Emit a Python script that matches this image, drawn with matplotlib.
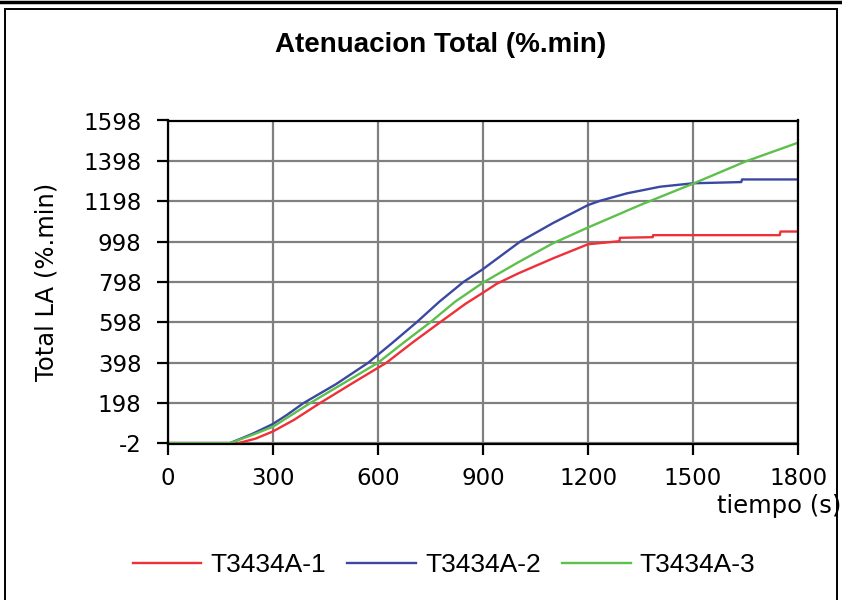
import numpy as np
import matplotlib
matplotlib.use("Agg")
import matplotlib.pyplot as plt
from matplotlib.patches import Rectangle
from matplotlib.lines import Line2D

plt.rcParams["axes.unicode_minus"] = False

# -----------------------------
# Data
# -----------------------------
t_red = [0, 201, 250, 300, 360, 434, 530, 624, 700, 777, 850, 900, 940, 1000,
         1100, 1200, 1290, 1291, 1385, 1386, 1748, 1750, 1800]
v_red = [0, 0, 22, 58, 115, 198, 300, 398, 500, 598, 690, 745, 790, 840,
         915, 985, 1000, 1017, 1020, 1030, 1030, 1048, 1048]

t_blue = [0, 177, 240, 300, 340, 387, 480, 572, 640, 710, 775, 844, 900, 1006,
          1100, 1200, 1234, 1311, 1406, 1500, 1638, 1640, 1800]
v_blue = [0, 0, 45, 95, 140, 198, 292, 398, 495, 598, 700, 798, 862, 998,
          1090, 1179, 1200, 1237, 1270, 1287, 1293, 1306, 1306]

t_green = [0, 178, 240, 300, 406, 500, 600, 675, 749, 820, 900, 1000, 1100,
           1200, 1350, 1500, 1650, 1800]
v_green = [0, 0, 40, 81, 198, 295, 398, 500, 598, 700, 795, 895, 990,
           1068, 1180, 1285, 1395, 1488]

series_names = ["T3434A-1", "T3434A-2", "T3434A-3"]
series_colors = ["#ee3039", "#3a48a2", "#5dbf4c"]

x_ticks = [0, 300, 600, 900, 1200, 1500, 1800]
y_ticks = [-2, 198, 398, 598, 798, 998, 1198, 1398, 1598]

# -----------------------------
# Figure
# -----------------------------
fig = plt.figure(figsize=(8.42, 6.0), dpi=100)
ax = fig.add_axes([168 / 842, 1 - 443.5 / 600, 630 / 842, 323 / 600])

for t, v, name, col in zip([t_red, t_blue, t_green], [v_red, v_blue, v_green],
                           series_names, series_colors):
    ax.plot(t, v, color=col, lw=1.7, label=name, zorder=3)

ax.set_xlim(0, 1800)
ax.set_ylim(-2, 1598)
ax.set_xticks(x_ticks)
ax.set_yticks(y_ticks)
ax.grid(True, color="#808080", lw=1.6)
ax.set_axisbelow(True)
for s in ax.spines.values():
    s.set_linewidth(1.6)
    s.set_color("black")
    s.set_zorder(4)
ax.tick_params(direction="out", length=8, width=1.6, labelsize=16.5, pad=9)
ax.tick_params(axis="y", pad=11)

ax.set_ylabel("Total LA (%.min)", fontsize=17.5, labelpad=18)

fig.text(441 / 842, 1 - 45 / 600, "Atenuacion Total (%.min)",
         fontsize=20, fontweight="bold", family="Liberation Sans",
         ha="center", va="center")
fig.text(841 / 842, 1 - 506 / 600, "tiempo (s)", fontsize=17.5,
         ha="right", va="center")

fig.legend(loc="center", bbox_to_anchor=(444 / 842, 1 - 565 / 600), ncol=3,
           frameon=False, prop={"family": "Liberation Sans", "size": 19},
           handlelength=2.6, handletextpad=0.35, columnspacing=0.8)

# Outer frame of the original report page
fig.add_artist(Rectangle((5 / 842, -0.05), 832 / 842, 1.05 - 9 / 600,
                         transform=fig.transFigure, fill=False,
                         edgecolor="black", lw=1.4))
fig.add_artist(Line2D([0, 1], [1 - 1.5 / 600, 1 - 1.5 / 600],
                      transform=fig.transFigure, color="black", lw=2.5))

fig.savefig("out.png", dpi=100)
